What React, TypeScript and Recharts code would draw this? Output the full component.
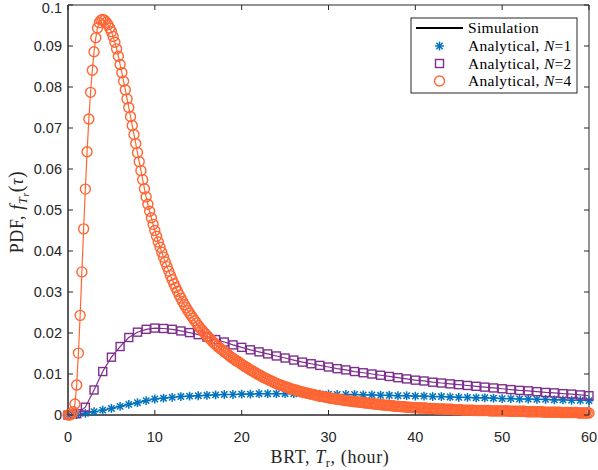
import React from "react";
import {
  ComposedChart,
  Line,
  Scatter,
  XAxis,
  YAxis,
  ReferenceArea,
} from "recharts";

// sample grids
const N4_STEP = 0.2;
const xTicks = [0, 10, 20, 30, 40, 50, 60];
const yTicks = [0, 0.01, 0.02, 0.03, 0.04, 0.05, 0.06, 0.07, 0.08, 0.09, 0.1];

// N=1, one value per hour (0..60)
const n1Values = [
  0, 0.0001, 0.0004, 0.0008, 0.0012, 0.0016, 0.0021, 0.0026, 0.003, 0.0035,
  0.0039, 0.0041, 0.0043, 0.0045, 0.0046, 0.0047, 0.0048, 0.0049, 0.005, 0.005,
  0.0051, 0.0051, 0.0052, 0.0052, 0.0052, 0.0052, 0.0052, 0.0052, 0.0051, 0.0051,
  0.0051, 0.005, 0.005, 0.005, 0.0049, 0.0049, 0.0048, 0.0048, 0.0047, 0.0047,
  0.0046, 0.0046, 0.0045, 0.0045, 0.0044, 0.0043, 0.0043, 0.0042, 0.0042, 0.0041,
  0.004, 0.004, 0.0039, 0.0039, 0.0038, 0.0038, 0.0037, 0.0037, 0.0036, 0.0036,
  0.0035,
];

// N=2, one value per hour (0..60)
const n2Values = [
  0, 0.0003, 0.0019, 0.0061, 0.0106, 0.0141, 0.0167, 0.0189, 0.0202, 0.0209,
  0.0212, 0.0211, 0.0209, 0.0205, 0.0201, 0.0196, 0.019, 0.0184, 0.0178, 0.0171,
  0.0165, 0.0159, 0.0154, 0.0149, 0.0144, 0.0139, 0.0134, 0.0129, 0.0125, 0.0121,
  0.0117, 0.0113, 0.011, 0.0106, 0.0103, 0.01, 0.0097, 0.0094, 0.0091, 0.0088,
  0.0085, 0.0083, 0.008, 0.0078, 0.0076, 0.0074, 0.0072, 0.007, 0.0068, 0.0066,
  0.0064, 0.0062, 0.006, 0.0059, 0.0057, 0.0055, 0.0054, 0.0052, 0.0051, 0.0049,
  0.0047,
];

// N=4, one value every 0.2 h (0..60)
const n4Values = [
  0, 0, 0.0002, 0.0008, 0.0027, 0.0073, 0.0151, 0.0243, 0.0349, 0.0454,
  0.0551, 0.0642, 0.0722, 0.0787, 0.0841, 0.0886, 0.092, 0.0944, 0.0957, 0.0963,
  0.0965, 0.0963, 0.0958, 0.0952, 0.0944, 0.0935, 0.0923, 0.0909, 0.0893, 0.0875,
  0.0855, 0.0835, 0.0814, 0.0793, 0.0771, 0.075, 0.0728, 0.0706, 0.0684, 0.0662,
  0.064, 0.0618, 0.0596, 0.0574, 0.0552, 0.0532, 0.0514, 0.0497, 0.0481, 0.0465,
  0.045, 0.0436, 0.0422, 0.0409, 0.0397, 0.0385, 0.0373, 0.0362, 0.0351, 0.034,
  0.033, 0.032, 0.0311, 0.0302, 0.0293, 0.0285, 0.0277, 0.0269, 0.0262, 0.0255,
  0.0248, 0.0242, 0.0236, 0.023, 0.0224, 0.0218, 0.0213, 0.0208, 0.0203, 0.0198,
  0.0193, 0.0189, 0.0185, 0.018, 0.0176, 0.0172, 0.0168, 0.0165, 0.0161, 0.0158,
  0.0154, 0.0151, 0.0148, 0.0144, 0.0141, 0.0138, 0.0135, 0.0132, 0.013, 0.0127,
  0.0124, 0.0121, 0.0118, 0.0116, 0.0113, 0.011, 0.0108, 0.0105, 0.0103, 0.01,
  0.0098, 0.0096, 0.0093, 0.0091, 0.0089, 0.0087, 0.0085, 0.0083, 0.0081, 0.0079,
  0.0077, 0.0075, 0.0074, 0.0072, 0.0071, 0.0069, 0.0068, 0.0066, 0.0065, 0.0063,
  0.0062, 0.0061, 0.006, 0.0058, 0.0057, 0.0056, 0.0055, 0.0054, 0.0053, 0.0052,
  0.0051, 0.005, 0.0049, 0.0048, 0.0047, 0.0046, 0.0045, 0.0045, 0.0044, 0.0043,
  0.0042, 0.0041, 0.0041, 0.004, 0.0039, 0.0039, 0.0038, 0.0037, 0.0037, 0.0036,
  0.0035, 0.0035, 0.0034, 0.0034, 0.0033, 0.0033, 0.0032, 0.0032, 0.0031, 0.0031,
  0.003, 0.003, 0.0029, 0.0029, 0.0028, 0.0028, 0.0027, 0.0027, 0.0026, 0.0026,
  0.0025, 0.0025, 0.0024, 0.0024, 0.0024, 0.0023, 0.0023, 0.0022, 0.0022, 0.0021,
  0.0021, 0.0021, 0.002, 0.002, 0.002, 0.0019, 0.0019, 0.0019, 0.0018, 0.0018,
  0.0018, 0.0018, 0.0017, 0.0017, 0.0017, 0.0017, 0.0017, 0.0016, 0.0016, 0.0016,
  0.0016, 0.0016, 0.0015, 0.0015, 0.0015, 0.0015, 0.0015, 0.0014, 0.0014, 0.0014,
  0.0014, 0.0014, 0.0013, 0.0013, 0.0013, 0.0013, 0.0013, 0.0012, 0.0012, 0.0012,
  0.0012, 0.0012, 0.0012, 0.0012, 0.0011, 0.0011, 0.0011, 0.0011, 0.0011, 0.0011,
  0.0011, 0.0011, 0.0011, 0.001, 0.001, 0.001, 0.001, 0.001, 0.001, 0.001,
  0.001, 0.001, 0.001, 0.001, 0.0009, 0.0009, 0.0009, 0.0009, 0.0009, 0.0009,
  0.0009, 0.0009, 0.0009, 0.0009, 0.0008, 0.0008, 0.0008, 0.0008, 0.0008, 0.0008,
  0.0008, 0.0008, 0.0008, 0.0008, 0.0007, 0.0007, 0.0007, 0.0007, 0.0007, 0.0007,
  0.0007, 0.0007, 0.0007, 0.0007, 0.0006, 0.0006, 0.0006, 0.0006, 0.0006, 0.0006,
  0.0006, 0.0006, 0.0006, 0.0006, 0.0005, 0.0005, 0.0005, 0.0005, 0.0005, 0.0005,
  0.0005,
];

const n1Data = n1Values.map((y, i) => ({ x: i, y }));
const n2Data = n2Values.map((y, i) => ({ x: i, y }));
const n4Data = n4Values.map((y, i) => ({ x: +(i * N4_STEP).toFixed(1), y }));

const W = 598;
const H = 470;
const PLOT_LEFT = 68;
const PLOT_TOP = 5;
const PLOT_RIGHT = 589;
const PLOT_BOTTOM = 415;
const AXIS = "#262626";
const BLUE = "#0072BD";
const PURPLE = "#7E2F8E";
const ORANGE = "#FF6633";
const SANS = "'Liberation Sans', Arial, sans-serif";
const SERIF = "'Liberation Serif', 'Times New Roman', serif";

function Star({ cx, cy, color }: any) {
  const r = 4.4;
  const d = r * 0.72;
  return (
    <g stroke={color} strokeWidth={1.5}>
      <line x1={cx - r} y1={cy} x2={cx + r} y2={cy} />
      <line x1={cx} y1={cy - r} x2={cx} y2={cy + r} />
      <line x1={cx - d} y1={cy - d} x2={cx + d} y2={cy + d} />
      <line x1={cx - d} y1={cy + d} x2={cx + d} y2={cy - d} />
    </g>
  );
}

function Square({ cx, cy, color }: any) {
  const s = 8;
  return (
    <rect x={cx - s / 2} y={cy - s / 2} width={s} height={s} fill="none" stroke={color} strokeWidth={1.4} />
  );
}

function Ring({ cx, cy, color }: any) {
  return <circle cx={cx} cy={cy} r={5} fill="none" stroke={color} strokeWidth={1.4} />;
}

function XTick({ x, payload }: any) {
  return (
    <g>
      <line x1={x} x2={x} y1={PLOT_BOTTOM} y2={PLOT_BOTTOM - 5} stroke={AXIS} />
      <line x1={x} x2={x} y1={PLOT_TOP} y2={PLOT_TOP + 5} stroke={AXIS} />
      <text x={x} y={PLOT_BOTTOM + 27} textAnchor="middle" fontFamily={SANS} fontSize={14.5} fill={AXIS}>
        {payload.value}
      </text>
    </g>
  );
}

function YTick({ y, payload }: any) {
  return (
    <g>
      <line x1={PLOT_LEFT} x2={PLOT_LEFT + 5} y1={y} y2={y} stroke={AXIS} />
      <line x1={PLOT_RIGHT} x2={PLOT_RIGHT - 5} y1={y} y2={y} stroke={AXIS} />
      <text x={PLOT_LEFT - 6} y={Math.max(y + 5, 13)} textAnchor="end" fontFamily={SANS} fontSize={14.5} fill={AXIS}>
        {String(Number(payload.value.toFixed(2)))}
      </text>
    </g>
  );
}

function Overlay() {
  const lx = 411;
  const ly = 18;
  const rows = [28, 46, 63.5, 81];
  return (
    <svg width={W} height={H} style={{ position: "absolute", left: 0, top: 0, pointerEvents: "none" }}>
      {/* x label */}
      <text x={330} y={463} textAnchor="middle" fontFamily={SERIF} fontSize={18} letterSpacing={0.6} fill={AXIS}>
        BRT, <tspan fontStyle="italic">T</tspan>
        <tspan fontSize={12.5} dy={3.5}>r</tspan>
        <tspan dy={-3.5}>, (hour)</tspan>
      </text>
      {/* y label */}
      <text
        transform={`translate(23, 212) rotate(-90)`}
        textAnchor="middle"
        fontFamily={SERIF}
        fontSize={18}
        letterSpacing={0.6}
        fill={AXIS}
      >
        PDF, <tspan fontStyle="italic">f</tspan>
        <tspan fontSize={12.5} fontStyle="italic" dy={3.5}>T</tspan>
        <tspan fontSize={9.5} fontStyle="italic" dy={2.5}>r</tspan>
        <tspan dy={-6} fontSize={20}>(</tspan>
        <tspan fontStyle="italic">τ</tspan>
        <tspan fontSize={20}>)</tspan>
      </text>
      {/* legend */}
      <rect x={lx} y={ly} width={166} height={75} fill="#fff" stroke={AXIS} strokeWidth={1} />
      <line x1={416} x2={463} y1={rows[0]} y2={rows[0]} stroke="#000" strokeWidth={2} />
      <Star cx={439.5} cy={rows[1]} color={BLUE} />
      <Square cx={439.5} cy={rows[2]} color={PURPLE} />
      <Ring cx={439.5} cy={rows[3]} color={ORANGE} />
      {["Simulation", "1", "2", "4"].map((t, i) => (
        <text key={i} x={468} y={rows[i] + 5} fontFamily={SERIF} fontSize={15.5} letterSpacing={0.3} fill="#000">
          {i === 0 ? (
            t
          ) : (
            <>
              Analytical, <tspan fontStyle="italic">N</tspan>={t}
            </>
          )}
        </text>
      ))}
    </svg>
  );
}

export default function App() {
  return (
    <div style={{ position: "absolute", left: 0, top: 0, width: W, height: H, background: "#fff" }}>
      <ComposedChart
        width={W}
        height={H}
        margin={{ top: PLOT_TOP, right: W - PLOT_RIGHT, bottom: 0, left: 0 }}
      >
        <XAxis
          type="number"
          dataKey="x"
          domain={[0, 60]}
          ticks={xTicks}
          interval={0}
          height={H - PLOT_BOTTOM}
          axisLine={{ stroke: AXIS }}
          tickLine={false}
          tick={(p: any) => <XTick {...p} />}
        />
        <YAxis
          type="number"
          dataKey="y"
          domain={[0, 0.1]}
          ticks={yTicks}
          interval={0}
          width={PLOT_LEFT}
          axisLine={{ stroke: AXIS }}
          tickLine={false}
          tick={(p: any) => <YTick {...p} />}
        />
        <ReferenceArea x1={0} x2={60} y1={0} y2={0.1} fill="none" stroke={AXIS} strokeWidth={1} />
        <Line data={n1Data} dataKey="y" stroke={BLUE} strokeWidth={1.2} dot={false} isAnimationActive={false} />
        <Line data={n2Data} dataKey="y" stroke={PURPLE} strokeWidth={1.2} dot={false} isAnimationActive={false} />
        <Line data={n4Data} dataKey="y" stroke={ORANGE} strokeWidth={1.2} dot={false} isAnimationActive={false} />
        <Scatter
          data={n1Data}
          isAnimationActive={false}
          shape={(p: any) => <Star cx={p.cx} cy={p.cy} color={BLUE} />}
        />
        <Scatter
          data={n2Data}
          isAnimationActive={false}
          shape={(p: any) => <Square cx={p.cx} cy={p.cy} color={PURPLE} />}
        />
        <Scatter
          data={n4Data}
          isAnimationActive={false}
          shape={(p: any) => <Ring cx={p.cx} cy={p.cy} color={ORANGE} />}
        />
      </ComposedChart>
      <Overlay />
    </div>
  );
}
